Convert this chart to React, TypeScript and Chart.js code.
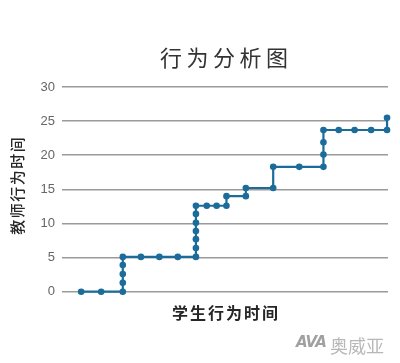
import React, { useEffect, useRef } from "react";
import { Chart, registerables } from "chart.js";

Chart.register(...registerables);

const chartTitle = "行为分析图";
const xAxisTitle = "学生行为时间";
const yAxisTitle = "教师行为时间";
const yTicks = [0, 5, 10, 15, 20, 25, 30];

// Student behaviour time (horizontal position) for each sample
const studentTime = [
  3.5, 9.8, 16.6, 16.6, 16.6, 16.6, 16.6, 22.3, 28.1, 33.9, 39.6, 39.6, 39.6,
  39.6, 39.6, 39.6, 39.6, 43.0, 46.1, 49.2, 49.2, 55.3, 55.3, 63.9, 63.9, 72.1,
  79.7, 79.7, 79.7, 79.7, 84.5, 89.5, 94.7, 99.7, 99.7,
];
// Teacher behaviour time (vertical position) for each sample
const teacherTime = [
  0, 0, 0, 1.3, 2.6, 3.9, 5.1, 5.1, 5.1, 5.1, 5.1, 6.4, 7.7, 8.9, 10.1, 11.4,
  12.6, 12.6, 12.6, 12.6, 14.0, 14.0, 15.2, 15.2, 18.3, 18.3, 18.3, 20.1, 21.9,
  23.7, 23.7, 23.7, 23.7, 23.7, 25.5,
];

const lineColor = "#1b6c9b";

function drawSpaced(ctx: any, text: string, cx: number, cy: number, spacing: number) {
  const chars = Array.from(text);
  const widths = chars.map((c) => ctx.measureText(c).width);
  const total = widths.reduce((a, b) => a + b, 0) + spacing * (chars.length - 1);
  let x = cx - total / 2;
  chars.forEach((c, i) => {
    ctx.fillText(c, x, cy);
    x += widths[i] + spacing;
  });
}

const spacedTitles = {
  id: "spacedTitles",
  afterDraw(chart: any) {
    const { ctx } = chart;
    ctx.save();
    ctx.textBaseline = "middle";
    ctx.textAlign = "left";
    // main title
    ctx.font = "normal 22px 'Noto Sans CJK SC', sans-serif";
    ctx.fillStyle = "#333333";
    drawSpaced(ctx, chartTitle, 224, 58, 4.5);
    // x axis title
    ctx.font = "bold 16px 'Noto Sans CJK SC', sans-serif";
    ctx.fillStyle = "#262626";
    drawSpaced(ctx, xAxisTitle, 225, 312.5, 2);
    // y axis title (rotated)
    ctx.save();
    ctx.translate(17, 186);
    ctx.rotate(-Math.PI / 2);
    ctx.font = "500 15px 'Noto Sans CJK SC', sans-serif";
    ctx.fillStyle = "#262626";
    drawSpaced(ctx, yAxisTitle, 0, 0, 1.5);
    ctx.restore();
    ctx.restore();
  },
};

export default function App() {
  const canvasRef = useRef<HTMLCanvasElement | null>(null);

  useEffect(() => {
    if (!canvasRef.current) return;
    const data = studentTime.map((x, i) => ({ x, y: teacherTime[i] }));
    const chart = new Chart(canvasRef.current, {
      type: "scatter",
      data: {
        datasets: [
          {
            data,
            showLine: true,
            borderColor: lineColor,
            backgroundColor: lineColor,
            borderWidth: 2.2,
            pointRadius: 3.3,
            pointBorderWidth: 0,
            pointHoverRadius: 3.3,
            clip: false as any,
          },
        ],
      },
      plugins: [spacedTitles],
      options: {
        responsive: false,
        animation: false,
        layout: { padding: { left: 0, right: 12, top: 87, bottom: 71.3 } },
        plugins: {
          legend: { display: false },
          tooltip: { enabled: false },
          title: { display: false },
        },
        scales: {
          x: {
            type: "linear",
            min: 0,
            max: 100,
            grid: { display: false, drawTicks: false, tickLength: 0 },
            border: { display: false },
            ticks: { display: false },
            title: { display: false },
          },
          y: {
            type: "linear",
            min: 0,
            max: 30,
            afterFit: (scale: any) => {
              scale.width = 70;
            },
            afterBuildTicks: (scale: any) => {
              scale.ticks = yTicks.map((v) => ({ value: v }));
            },
            grid: {
              color: "#9a9a9a",
              lineWidth: 1.5,
              tickLength: 8,
              drawTicks: true,
            },
            border: { display: false },
            ticks: {
              color: "#666666",
              padding: 7,
              font: { family: "'Liberation Sans', sans-serif", size: 13 },
            },
            title: { display: false },
          },
        },
      },
    });
    return () => chart.destroy();
  }, []);

  return (
    <div style={{ position: "absolute", left: 0, top: 0, width: 400, height: 363, background: "#ffffff" }}>
      <canvas ref={canvasRef} width={400} height={363} style={{ display: "block" }} />
      <div
        style={{
          position: "absolute",
          left: 296,
          top: 333,
          fontFamily: "'DejaVu Sans', sans-serif",
          fontWeight: "bold",
          fontStyle: "italic",
          fontSize: 15,
          color: "#a0a0a0",
          letterSpacing: -1,
        }}
      >
        AVA
      </div>
      <div
        style={{
          position: "absolute",
          left: 330,
          top: 334,
          fontFamily: "'Noto Sans CJK SC', sans-serif",
          fontSize: 18,
          color: "#b8b8b8",
          lineHeight: "22px",
        }}
      >
        奥威亚
      </div>
    </div>
  );
}
